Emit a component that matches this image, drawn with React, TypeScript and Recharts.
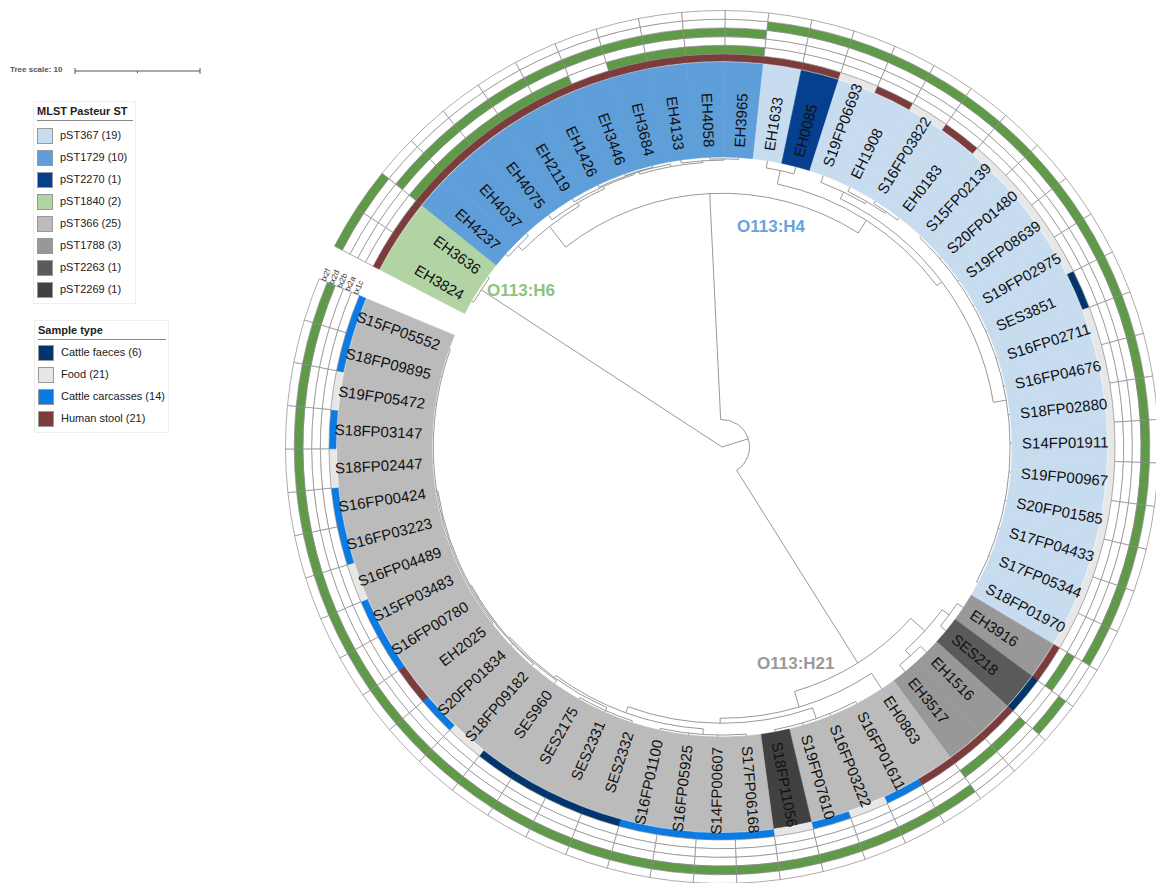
import React from 'react';
import { PieChart, Pie, Cell, Customized } from 'recharts';

/* ================= DATA ================= */
// leaves, clockwise from the gap at the upper left
const LEAVES = [
  'EH3824', 'EH3636', 'EH4237', 'EH4037', 'EH4075', 'EH2119', 'EH1426', 'EH3446', 'EH3684', 'EH4133',
  'EH4058', 'EH3965', 'EH1633', 'EH0085', 'S19FP06693', 'EH1908', 'S16FP03822', 'EH0183', 'S15FP02139', 'S20FP01480',
  'S19FP08639', 'S19FP02975', 'SES3851', 'S16FP02711', 'S16FP04676', 'S18FP02880', 'S14FP01911', 'S19FP00967', 'S20FP01585', 'S17FP04433',
  'S17FP05344', 'S18FP01970', 'EH3916', 'SES218', 'EH1516', 'EH3517', 'EH0863', 'S16FP01611', 'S16FP03222', 'S19FP07610',
  'S18FP11056', 'S17FP06168', 'S14FP00607', 'S16FP05925', 'S16FP01100', 'SES2332', 'SES2331', 'SES2175', 'SES960', 'S18FP09182',
  'S20FP01834', 'EH2025', 'S16FP00780', 'S15FP03483', 'S16FP04489', 'S16FP03223', 'S16FP00424', 'S18FP02447', 'S18FP03147', 'S19FP05472',
  'S18FP09895', 'S15FP05552',
];

const MLST_ST = [
  'pST1840', 'pST1840', 'pST1729', 'pST1729', 'pST1729', 'pST1729', 'pST1729', 'pST1729', 'pST1729', 'pST1729',
  'pST1729', 'pST1729', 'pST367', 'pST2270', 'pST367', 'pST367', 'pST367', 'pST367', 'pST367', 'pST367',
  'pST367', 'pST367', 'pST367', 'pST367', 'pST367', 'pST367', 'pST367', 'pST367', 'pST367', 'pST367',
  'pST367', 'pST367', 'pST1788', 'pST2263', 'pST1788', 'pST1788', 'pST366', 'pST366', 'pST366', 'pST366',
  'pST2269', 'pST366', 'pST366', 'pST366', 'pST366', 'pST366', 'pST366', 'pST366', 'pST366', 'pST366',
  'pST366', 'pST366', 'pST366', 'pST366', 'pST366', 'pST366', 'pST366', 'pST366', 'pST366', 'pST366',
  'pST366', 'pST366',
];

// HS human stool, FD food, CC cattle carcasses, CF cattle faeces
const SAMPLE = [
  'HS', 'HS', 'HS', 'HS', 'HS', 'HS', 'HS', 'HS', 'HS', 'HS',
  'HS', 'HS', 'HS', 'HS', 'FD', 'HS', 'FD', 'HS', 'FD', 'FD',
  'FD', 'FD', 'CF', 'FD', 'FD', 'FD', 'FD', 'FD', 'FD', 'FD',
  'FD', 'FD', 'HS', 'CF', 'HS', 'HS', 'HS', 'CC', 'FD', 'CC',
  'FD', 'CC', 'CC', 'CC', 'CC', 'CF', 'CF', 'CF', 'CF', 'FD',
  'CC', 'HS', 'CC', 'CC', 'FD', 'CC', 'CC', 'FD', 'CC', 'FD',
  'CC', 'CC',
];

// stx genes, inner ring first; listed leaves are positive
const STX_GENES = ['stx1c', 'stx2a', 'stx2b', 'stx2d', 'stx2f'];
const STX1C = ['EH4237', 'EH4037', 'EH4075', 'EH2119', 'EH1426', 'EH3684', 'EH4133', 'EH4058', 'EH3965'];
const STX2A = ['EH3916', 'EH1516', 'EH3517'];
const STX2B = ['EH4237', 'EH4037', 'EH4075', 'EH2119', 'EH1426', 'EH3446', 'EH3684', 'EH4133', 'EH4058', 'EH3965'];
const STX2D = [
  'EH1633', 'EH0085', 'S19FP06693', 'EH1908', 'S16FP03822', 'EH0183', 'S15FP02139', 'S20FP01480', 'S19FP08639', 'S19FP02975',
  'SES3851', 'S16FP02711', 'S16FP04676', 'S18FP02880', 'S14FP01911', 'S19FP00967', 'S20FP01585', 'S17FP04433', 'S17FP05344', 'S18FP01970',
  'SES218', 'EH0863', 'S16FP01611', 'S16FP03222', 'S19FP07610', 'S18FP11056', 'S17FP06168', 'S14FP00607', 'S16FP05925', 'S16FP01100',
  'SES2332', 'SES2331', 'SES2175', 'SES960', 'S18FP09182', 'S20FP01834', 'EH2025', 'S16FP00780', 'S15FP03483', 'S16FP04489',
  'S16FP03223', 'S16FP00424', 'S18FP02447', 'S18FP03147', 'S19FP05472', 'S18FP09895', 'S15FP05552',
];
const STX2F = ['EH3824', 'EH3636'];
const STX_POSITIVE = [STX1C, STX2A, STX2B, STX2D, STX2F];

// legends
const MLST_LEGEND = ['pST367', 'pST1729', 'pST2270', 'pST1840', 'pST366', 'pST1788', 'pST2263', 'pST2269'];
const MLST_COUNTS = [19, 10, 1, 2, 25, 3, 1, 1];
const SAMPLE_LEGEND = ['CF', 'FD', 'CC', 'HS'];
const SAMPLE_NAMES = ['Cattle faeces', 'Food', 'Cattle carcasses', 'Human stool'];
const SAMPLE_COUNTS = [6, 21, 14, 21];

// tree: internal node = depth (tree units) + children; numbers are leaf indices
type TNode = { d: number; c: Array<TNode | number> };
const N = (d: number, ...c: Array<TNode | number>): TNode => ({ d, c });
const LEAF_DEPTH = 23.2;
const TREE = N(0,
  N(23.0, 0, 1),
  N(2.2,
    N(20.3,
      N(22.4, N(22.9, 2, 3), N(22.7, 4, N(22.9, 5, N(23.0, 6, N(22.8, N(23.05, 7, 8), N(22.95, 9, N(23.05, 10, 11))))))),
      N(21.5, N(22.6, 12, 13), N(22.0, N(22.6, 14, N(22.8, 15, N(22.95, 16, 17))),
        N(23.05, 18, 19, 20, 21, 22, 23, 24, 25, 26, 27, 28, 29, 30, 31))),
    ),
    N(20.4,
      N(21.9, N(22.6, 32, 33), N(22.5, 34, 35)),
      N(21.7, 36, N(22.1, N(23.0, 37, 38, 39, 40), N(22.6, N(23.05, 41, 42, 43, 44),
        N(22.8, N(23.05, 45, 46, 47), N(22.9, 48, N(23.0, 49, 50,
          N(23.1, 51, 52, 53, 54, 55, 56, 57, 58, 59, 60, 61))))))),
    ),
  ),
);

/* ================= STYLE ================= */
const W = 1156;
const H = 883;
const CX = 722;
const CY = 447;
const START = 152.6;
const STEP = 5.73;
const END = START - STEP * LEAVES.length;
const PX_PER_UNIT = 12.5;
const FONT = '"Liberation Sans", Arial, sans-serif';

const ST_COLORS: Record<string, string> = {
  pST367: '#c8dcf0',
  pST1729: '#5e9ed9',
  pST2270: '#053f8d',
  pST1840: '#b2d3a3',
  pST366: '#bbbbbb',
  pST1788: '#989898',
  pST2263: '#5a5a5a',
  pST2269: '#414141',
};
const SAMPLE_COLORS: Record<string, string> = {
  CF: '#02356d',
  FD: '#e7e7e7',
  CC: '#0a7be2',
  HS: '#7d3c3c',
};
const STX_GREEN = '#5f9a48';
const CLADE_COLORS = { H4: '#68a3dd', H6: '#8dc27f', H21: '#9a9a9a' };

const MLST_R = [290, 385];
const SAMPLE_R = [386, 393];
const GENE_R0 = 393;
const GENE_W = 8.7;
const LABEL_R = 300;

/* ================= HELPERS ================= */
const RAD = Math.PI / 180;
const polar = (r: number, a: number): [number, number] => [CX + r * Math.cos(a * RAD), CY - r * Math.sin(a * RAD)];
const leafAngle = (i: number) => START - STEP * (i + 0.5);
const norm = (a: number) => ((((a + 180) % 360) + 360) % 360) - 180;

const leafData = LEAVES.map((name, i) => ({ name, value: 1, st: MLST_ST[i], sample: SAMPLE[i] }));

const renderLeafLabel = (props: any) => {
  const a = norm(props.midAngle);
  const [x, y] = polar(LABEL_R, a);
  const flip = a > 90 || a < -90;
  const rot = flip ? 180 - a : -a;
  return (
    <text
      key={`lbl-${props.index}`}
      x={x}
      y={y}
      transform={`rotate(${rot}, ${x}, ${y})`}
      textAnchor={flip ? 'end' : 'start'}
      dominantBaseline="central"
      fontSize={15}
      fontFamily={FONT}
      fill="#111"
    >
      {LEAVES[props.index]}
    </text>
  );
};

/* ================= TREE ================= */
function TreeLayer() {
  const segs: string[] = [];
  const walk = (n: TNode | number): { a: number; r: number } => {
    if (typeof n === 'number') return { a: leafAngle(n), r: LEAF_DEPTH * PX_PER_UNIT };
    const kids = n.c.map(walk);
    const r = n.d * PX_PER_UNIT;
    const a1 = kids[0].a;
    const a2 = kids[kids.length - 1].a;
    kids.forEach((k) => {
      const [x1, y1] = polar(r, k.a);
      const [x2, y2] = polar(k.r, k.a);
      segs.push(`M${x1},${y1}L${x2},${y2}`);
    });
    if (r > 0) {
      const [x1, y1] = polar(r, a1);
      const [x2, y2] = polar(r, a2);
      const large = a1 - a2 > 180 ? 1 : 0;
      segs.push(`M${x1},${y1}A${r},${r} 0 ${large} 1 ${x2},${y2}`);
    }
    return { a: (a1 + a2) / 2, r };
  };
  walk(TREE);

  const gapA = END + 360 + 0.6;
  return (
    <g>
      {segs.map((d, i) => (
        <path key={i} d={d} fill="none" stroke="#8c8c8c" strokeWidth={0.9} />
      ))}
      {STX_GENES.map((g, k) => {
        const [x, y] = polar(GENE_R0 + GENE_W * (k + 0.5), gapA);
        return (
          <text
            key={g}
            x={x}
            y={y}
            transform={`rotate(${90 - gapA + 2}, ${x}, ${y})`}
            textAnchor="start"
            dominantBaseline="central"
            fontSize={8}
            fontFamily={FONT}
            fill="#333"
          >
            {g}
          </text>
        );
      })}
      <text x={737} y={232} fontSize={17} fontWeight="bold" fontFamily={FONT} fill={CLADE_COLORS.H4}>
        O113:H4
      </text>
      <text x={487} y={296} fontSize={17} fontWeight="bold" fontFamily={FONT} fill={CLADE_COLORS.H6}>
        O113:H6
      </text>
      <text x={757} y={669} fontSize={17} fontWeight="bold" fontFamily={FONT} fill={CLADE_COLORS.H21}>
        O113:H21
      </text>
    </g>
  );
}

/* ================= LEGENDS ================= */
const swatch = (color: string) => (
  <span
    style={{
      display: 'inline-block',
      width: 14,
      height: 14,
      background: color,
      border: '1px solid #999',
      marginRight: 7,
      verticalAlign: 'middle',
    }}
  />
);

function Legends() {
  return (
    <>
      <div style={{ position: 'absolute', left: 10, top: 65, fontSize: 8, fontWeight: 'bold', color: '#555', fontFamily: FONT }}>
        Tree scale: 10
      </div>
      <svg style={{ position: 'absolute', left: 70, top: 64 }} width={140} height={14}>
        <line x1={5} y1={7} x2={130} y2={7} stroke="#555" strokeWidth={1} />
        <line x1={5} y1={4} x2={5} y2={10} stroke="#555" strokeWidth={1} />
        <line x1={130} y1={4} x2={130} y2={10} stroke="#555" strokeWidth={1} />
        <line x1={67.5} y1={7} x2={67.5} y2={9} stroke="#555" strokeWidth={1} />
      </svg>

      <div
        style={{
          position: 'absolute',
          left: 33,
          top: 101,
          width: 96,
          padding: '3px 2px 3px 3px',
          border: '1px solid #eee',
          fontFamily: FONT,
          fontSize: 11,
          color: '#222',
          background: '#fff',
        }}
      >
        <div style={{ fontWeight: 'bold', borderBottom: '1px solid #888', paddingBottom: 3, marginBottom: 3 }}>MLST Pasteur ST</div>
        {MLST_LEGEND.map((st, i) => (
          <div key={st} style={{ height: 22, lineHeight: '22px' }}>
            {swatch(ST_COLORS[st])}
            {`${st} (${MLST_COUNTS[i]})`}
          </div>
        ))}
      </div>

      <div
        style={{
          position: 'absolute',
          left: 34,
          top: 320,
          width: 128,
          padding: '3px 2px 3px 3px',
          border: '1px solid #eee',
          fontFamily: FONT,
          fontSize: 11,
          color: '#222',
          background: '#fff',
        }}
      >
        <div style={{ fontWeight: 'bold', borderBottom: '1px solid #888', paddingBottom: 3, marginBottom: 1 }}>Sample type</div>
        {SAMPLE_LEGEND.map((s, i) => (
          <div key={s} style={{ height: 22, lineHeight: '22px', whiteSpace: 'nowrap' }}>
            {swatch(SAMPLE_COLORS[s])}
            {`${SAMPLE_NAMES[i]} (${SAMPLE_COUNTS[i]})`}
          </div>
        ))}
      </div>
    </>
  );
}

/* ================= APP ================= */
export default function App() {
  return (
    <div style={{ position: 'absolute', left: 0, top: 0, width: W, height: H, background: '#fff', overflow: 'hidden' }}>
      <PieChart width={W} height={H} margin={{ top: 0, right: 0, bottom: 0, left: 0 }}>
        <Customized component={TreeLayer} />
        <Pie
          data={leafData}
          dataKey="value"
          cx={CX}
          cy={CY}
          innerRadius={MLST_R[0]}
          outerRadius={MLST_R[1]}
          startAngle={START}
          endAngle={END}
          label={renderLeafLabel}
          labelLine={false}
          isAnimationActive={false}
        >
          {leafData.map((d) => (
            <Cell key={d.name} fill={ST_COLORS[d.st]} stroke={ST_COLORS[d.st]} strokeWidth={0.6} />
          ))}
        </Pie>
        <Pie
          data={leafData}
          dataKey="value"
          cx={CX}
          cy={CY}
          innerRadius={SAMPLE_R[0]}
          outerRadius={SAMPLE_R[1]}
          startAngle={START}
          endAngle={END}
          isAnimationActive={false}
        >
          {leafData.map((d) => (
            <Cell key={d.name} fill={SAMPLE_COLORS[d.sample]} stroke={SAMPLE_COLORS[d.sample]} strokeWidth={0.6} />
          ))}
        </Pie>
        {STX_GENES.map((g, k) => (
          <Pie
            key={g}
            data={leafData}
            dataKey="value"
            cx={CX}
            cy={CY}
            innerRadius={GENE_R0 + GENE_W * k}
            outerRadius={GENE_R0 + GENE_W * (k + 1)}
            startAngle={START}
            endAngle={END}
            stroke="#8a8a8a"
            strokeWidth={0.7}
            isAnimationActive={false}
          >
            {leafData.map((d) => (
              <Cell key={d.name} fill={STX_POSITIVE[k].includes(d.name) ? STX_GREEN : '#ffffff'} />
            ))}
          </Pie>
        ))}
      </PieChart>
      <Legends />
    </div>
  );
}
